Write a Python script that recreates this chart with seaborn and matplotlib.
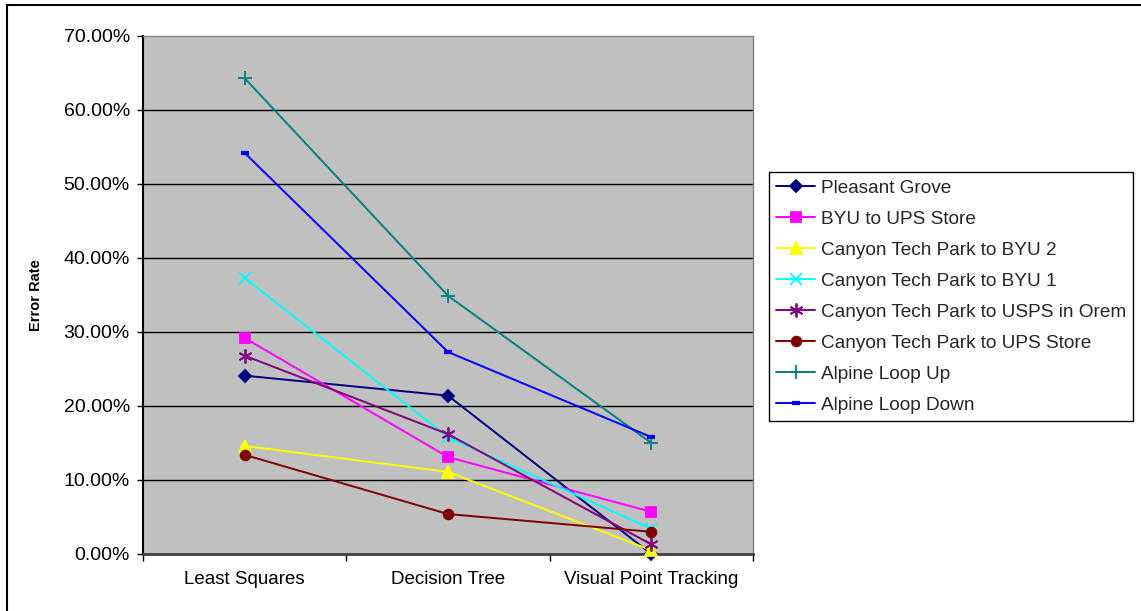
import matplotlib
matplotlib.use("Agg")
import matplotlib.pyplot as plt
from matplotlib.patches import Rectangle
from matplotlib.ticker import FixedLocator, FuncFormatter
import pandas as pd
import seaborn as sns

# Error rate (%) of each route for the three methods
methods = ["Least Squares", "Decision Tree", "Visual Point Tracking"]
routes = [
    "Pleasant Grove",
    "BYU to UPS Store",
    "Canyon Tech Park to BYU 2",
    "Canyon Tech Park to BYU 1",
    "Canyon Tech Park to USPS in Orem",
    "Canyon Tech Park to UPS Store",
    "Alpine Loop Up",
    "Alpine Loop Down",
]
pleasant_grove = [24.1, 21.4, 0.0]
byu_to_ups = [29.2, 13.1, 5.7]
ctp_to_byu2 = [14.6, 11.1, 0.5]
ctp_to_byu1 = [37.3, 15.8, 3.4]
ctp_to_usps_orem = [26.8, 16.2, 1.3]
ctp_to_ups = [13.4, 5.4, 3.0]
alpine_up = [64.3, 34.9, 15.0]
alpine_down = [54.2, 27.3, 15.8]

series = [pleasant_grove, byu_to_ups, ctp_to_byu2, ctp_to_byu1,
          ctp_to_usps_orem, ctp_to_ups, alpine_up, alpine_down]

colors = ["#000080", "#FF00FF", "#FFFF00", "#00FFFF",
          "#800080", "#800000", "#008080", "#0000FF"]
markers = ["D", "s", "^", "x", (6, 2, 0), "o", "+", "_"]
msizes = [6, 7, 8, 9, 10, 7, 10, 6]

rows = []
for name, vals in zip(routes, series):
    for m, v in zip(methods, vals):
        rows.append({"Method": m, "Route": name, "Error": v / 100.0})
df = pd.DataFrame(rows)

sns.set_theme(style="white")
plt.rcParams["font.family"] = ["Liberation Sans", "DejaVu Sans"]

fig = plt.figure(figsize=(11.41, 6.11), dpi=100)
ax = fig.add_axes([143 / 1141, 1 - 554 / 611, 610 / 1141, 518 / 611])
ax.set_facecolor("#C0C0C0")

sns.lineplot(
    data=df, x="Method", y="Error", hue="Route",
    hue_order=routes, palette=dict(zip(routes, colors)),
    sort=False, linewidth=1.4, ax=ax, legend=True,
)

def style_line(line, i):
    c = colors[i]
    line.set_color(c)
    line.set_linestyle("-")
    line.set_marker(markers[i])
    line.set_markerfacecolor(c)
    line.set_markeredgecolor(c)
    line.set_markersize(msizes[i])
    line.set_markeredgewidth(3 if markers[i] == "_" else 1.3)

for i, line in enumerate(ax.lines[:len(routes)]):
    style_line(line, i)
    line.set_clip_on(False)
    line.set_zorder(3)

ax.set_xlim(-0.5, 2.5)
ax.set_ylim(0, 0.70)

ax.yaxis.set_major_locator(FixedLocator([i / 10 for i in range(8)]))
ax.yaxis.set_major_formatter(FuncFormatter(lambda v, p: f"{v * 100:.2f}%"))
ax.set_xticks(range(len(methods)))
ax.set_xticklabels(methods)
ax.xaxis.set_minor_locator(FixedLocator([-0.5, 0.5, 1.5, 2.5]))

ax.tick_params(axis="y", which="major", direction="out", length=4.5, width=1,
               color="#000000", pad=5, labelsize=14, labelcolor="#000000", left=True)
ax.tick_params(axis="x", which="major", length=0, pad=12.5, labelsize=13.5,
               labelcolor="#000000", bottom=True)
ax.tick_params(axis="x", which="minor", direction="out", length=5, width=1,
               color="#000000", bottom=True)

ax.grid(False)
for y in [i / 10 for i in range(1, 7)]:
    ax.axhline(y, color="#000000", linewidth=1, zorder=0.5)

for side in ["top", "right"]:
    ax.spines[side].set_color("#808080")
    ax.spines[side].set_linewidth(1)
ax.spines["left"].set_color("#000000")
ax.spines["left"].set_linewidth(1.5)
ax.spines["bottom"].set_color("#404040")
ax.spines["bottom"].set_linewidth(2)

ax.set_xlabel("")
ax.set_ylabel("Error Rate", fontsize=10.5, fontweight="bold", color="#000000")
ax.yaxis.set_label_coords(-0.164, 0.5)

handles, labels = ax.get_legend_handles_labels()
hmap = dict(zip(labels, handles))
leg_handles = []
for i, r in enumerate(routes):
    h = hmap[r]
    style_line(h, i)
    leg_handles.append(h)
if ax.get_legend() is not None:
    ax.get_legend().remove()
leg = fig.legend(
    leg_handles, routes, loc="upper left",
    bbox_to_anchor=(769 / 1141, 1 - 172 / 611), bbox_transform=fig.transFigure,
    frameon=True, fancybox=False, edgecolor="#000000", fontsize=13.7,
    labelspacing=0.72, handlelength=2.05, handletextpad=0.28,
    borderpad=0.38, borderaxespad=0, framealpha=1,
)
leg.get_frame().set_linewidth(1)

# outer chart border
fig.patches.append(Rectangle((7 / 1141, -0.05), 1.2, 1 - 5 / 611 + 0.05,
                             transform=fig.transFigure, fill=False,
                             edgecolor="#000000", linewidth=1.5))

fig.savefig("out.png", dpi=100, facecolor="white")
